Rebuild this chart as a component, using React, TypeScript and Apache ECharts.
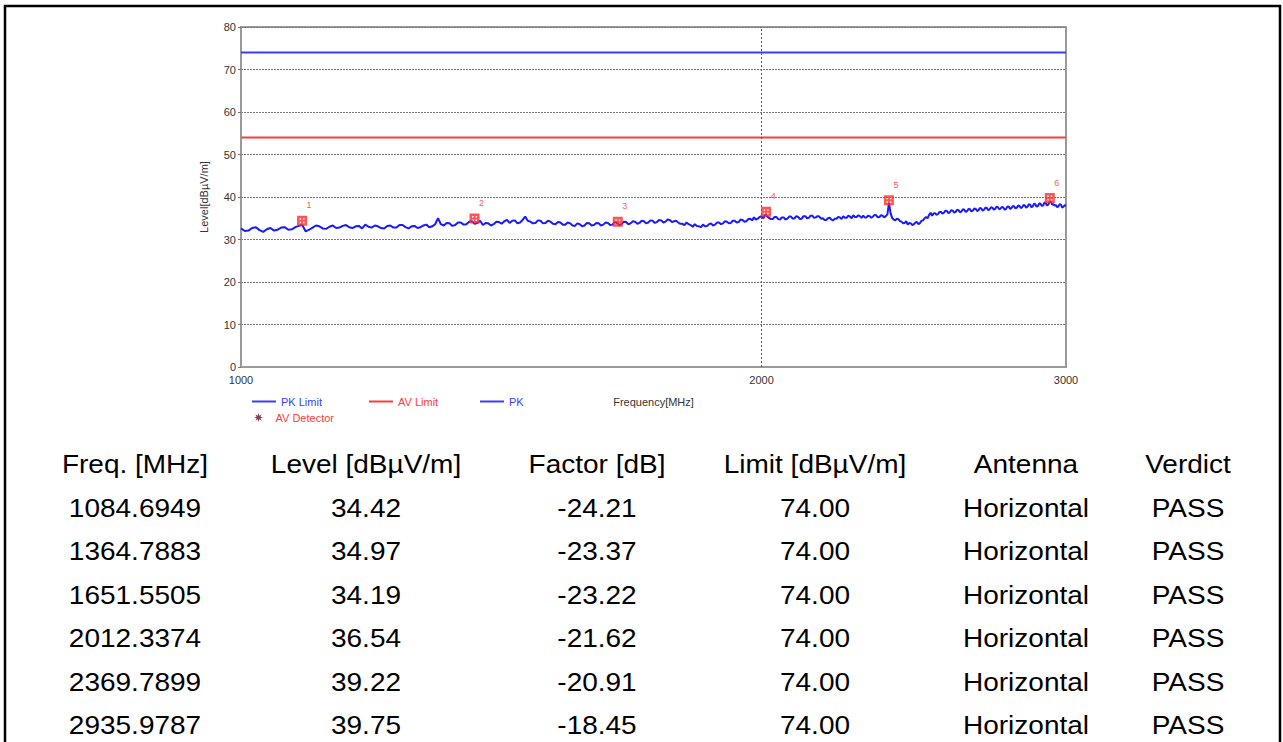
import React, { useEffect, useRef } from "react";
import * as echarts from "echarts";

// ---------------- data ----------------
const pkLimitLevel = 74;
const avLimitLevel = 54;
const sweepStartMHz = 1000;
const sweepStopMHz = 3000;
const sweepStepMHz = 5;
// PK trace, one value every 5 MHz from 1000 to 3000 MHz
const pkLevels = [
  32.6, 32.0, 32.1, 32.7, 32.9, 32.2, 31.8, 32.4, 32.7, 32.1, 32.3, 32.8, 32.9, 32.3, 32.4, 32.9, 33.2, 33.4, 31.9, 32.3,
  32.8, 33.3, 33.1, 32.6, 32.5, 33.0, 33.3, 32.7, 32.8, 33.2, 33.4, 32.9, 32.7, 33.1, 33.2, 32.6, 33.5, 33.0, 32.8, 33.3,
  33.1, 32.7, 32.6, 33.2, 33.3, 32.8, 32.8, 33.4, 33.4, 32.9, 32.6, 33.1, 33.2, 32.7, 32.9, 33.3, 33.5, 32.9, 33.1, 33.6,
  35.0, 33.6, 33.3, 33.9, 33.8, 33.2, 33.4, 34.0, 34.0, 33.5, 33.6, 34.2, 34.3, 33.7, 33.9, 34.4, 33.4, 33.9, 33.8, 33.3,
  33.6, 34.2, 34.1, 33.7, 34.3, 34.6, 33.9, 34.4, 34.5, 33.8, 34.0, 34.6, 35.4, 34.4, 34.2, 33.8, 33.9, 34.5, 34.4, 33.8,
  33.9, 34.4, 34.2, 33.7, 33.6, 34.1, 34.0, 33.5, 33.5, 34.0, 33.8, 33.3, 33.2, 33.8, 33.6, 33.1, 33.3, 33.9, 33.8, 33.3,
  33.4, 33.9, 33.8, 33.3, 33.5, 34.0, 33.9, 33.4, 33.5, 34.1, 33.9, 33.4, 33.6, 34.2, 34.1, 33.6, 33.8, 34.3, 34.2, 33.7,
  33.9, 34.4, 34.3, 33.8, 34.0, 34.5, 34.4, 33.9, 34.1, 34.6, 34.5, 34.0, 34.2, 34.7, 34.6, 34.1, 34.3, 34.4, 34.0, 33.7,
  33.7, 33.4, 34.0, 33.6, 33.4, 33.0, 33.6, 33.2, 33.1, 32.9, 33.5, 33.1, 33.2, 33.6, 33.8, 33.3, 33.5, 34.0, 34.0, 33.6,
  33.8, 34.3, 34.2, 33.8, 33.9, 34.4, 34.4, 34.0, 34.1, 34.7, 34.6, 34.2, 34.3, 34.8, 34.9, 34.5, 35.2, 34.7, 34.9, 35.3,
  35.5, 35.0, 35.9, 35.4, 35.1, 34.8, 34.8, 35.3, 35.3, 34.8, 34.7, 35.2, 35.2, 34.7, 34.9, 35.4, 35.4, 34.9, 35.0, 35.5,
  35.3, 34.8, 34.9, 35.5, 35.5, 35.0, 35.1, 35.6, 35.6, 35.1, 35.2, 35.5, 35.4, 34.9, 35.0, 34.6, 34.6, 35.0, 35.1, 34.7,
  34.5, 34.9, 34.9, 35.3, 35.2, 34.8, 35.5, 35.1, 35.1, 35.6, 35.4, 35.0, 35.7, 35.3, 35.3, 35.7, 35.5, 35.1, 35.6, 35.2,
  35.2, 35.6, 35.5, 35.1, 35.4, 35.8, 35.7, 35.2, 35.3, 35.7, 35.6, 35.2, 35.5, 35.9, 38.6, 36.2, 35.1, 34.7, 34.5, 34.9,
  34.8, 34.3, 34.2, 33.8, 33.9, 34.3, 33.5, 33.9, 33.8, 33.4, 33.6, 34.0, 34.1, 33.6, 33.9, 34.4, 34.5, 35.0, 35.3, 35.0,
  35.8, 36.3, 35.6, 36.1, 36.2, 35.8, 36.0, 36.5, 36.5, 36.1, 36.3, 36.8, 36.7, 36.2, 36.4, 36.9, 36.8, 36.3, 36.5, 37.0,
  36.9, 36.4, 36.6, 37.1, 37.0, 36.5, 36.7, 37.2, 37.1, 36.6, 36.8, 37.3, 37.2, 36.7, 36.9, 37.4, 37.3, 36.8, 37.0, 37.5,
  37.4, 36.9, 37.1, 37.6, 37.5, 37.0, 37.2, 37.7, 37.6, 37.1, 37.3, 37.7, 37.5, 37.0, 37.2, 37.8, 37.7, 37.2, 37.4, 37.9,
  37.8, 37.3, 37.5, 38.0, 37.9, 37.4, 37.6, 38.1, 38.0, 37.5, 37.7, 38.3, 38.2, 37.6, 37.8, 38.4, 38.3, 37.7, 37.9, 38.5,
  38.4, 37.9, 38.0, 38.7, 38.6, 38.0, 38.2, 38.9, 38.9, 38.2, 38.3, 38.0, 38.1, 37.6, 37.8, 38.3, 38.2, 37.5, 37.7, 38.1,
  37.9,
];

const markerFreqs = [1084.6949, 1364.7883, 1651.5505, 2012.3374, 2369.7899, 2935.9787];
const markerLevels = [34.42, 34.97, 34.19, 36.54, 39.22, 39.75];
const markerFactors = [-24.21, -23.37, -23.22, -21.62, -20.91, -18.45];
const markerLimits = [74.0, 74.0, 74.0, 74.0, 74.0, 74.0];
const markerAntennas = ["Horizontal", "Horizontal", "Horizontal", "Horizontal", "Horizontal", "Horizontal"];
const markerVerdicts = ["PASS", "PASS", "PASS", "PASS", "PASS", "PASS"];

const tableHeaders = ["Freq. [MHz]", "Level [dBµV/m]", "Factor [dB]", "Limit [dBµV/m]", "Antenna", "Verdict"];
const xTickValues = [1000, 2000, 3000];

// ---------------- styles ----------------
const FONT = "'Liberation Sans', Arial, sans-serif";
const BLUE_LIMIT = "#3c3cff";
const RED_LIMIT = "#ff3c3c";
const BLUE_TRACE = "#1a1aff";
const MARKER_RED = "#ff2a2a";
const colCenters = [135, 366, 597, 815, 1026, 1188];
const headerY = 465;
const rowYs = [509, 552, 596, 639, 683, 726];
const tableFontSize = 25;
const tableScaleX = 1.12;

function starIcon(): string {
  const pts: string[] = [];
  for (let i = 0; i < 16; i++) {
    const r = i % 2 === 0 ? 10 : 4.5;
    const a = (i * Math.PI) / 8 - Math.PI / 2;
    pts.push(`${(10 + r * Math.cos(a)).toFixed(2)},${(10 + r * Math.sin(a)).toFixed(2)}`);
  }
  return "path://M" + pts.join("L") + "Z";
}

const hashIcon =
  "path://M0,0H10V10H0Z M2.5,2.5V4H4V2.5Z M6,2.5V4H7.5V2.5Z M2.5,6V7.5H4V6Z M6,6V7.5H7.5V6Z";

export default function App() {
  const ref = useRef<HTMLDivElement>(null);

  useEffect(() => {
    if (!ref.current) return;
    const chart = echarts.init(ref.current, undefined, { renderer: "svg" });

    const pkData = pkLevels.map((v, i) => [sweepStartMHz + i * sweepStepMHz, v]);
    const markerData = markerFreqs.map((f, i) => [f, markerLevels[i]]);

    const tableTexts: any[] = [];
    tableHeaders.forEach((h, c) => {
      tableTexts.push({
        type: "text",
        x: colCenters[c],
        y: headerY,
        scaleX: tableScaleX,
        style: {
          text: h,
          font: `${tableFontSize}px ${FONT}`,
          fill: "#000",
          textAlign: "center",
          textVerticalAlign: "middle",
        },
      });
    });
    markerFreqs.forEach((f, r) => {
      const cells = [
        f.toFixed(4),
        markerLevels[r].toFixed(2),
        markerFactors[r].toFixed(2),
        markerLimits[r].toFixed(2),
        markerAntennas[r],
        markerVerdicts[r],
      ];
      cells.forEach((t, c) => {
        tableTexts.push({
          type: "text",
          x: colCenters[c],
          y: rowYs[r],
          scaleX: tableScaleX,
          style: {
            text: t,
            font: `${tableFontSize}px ${FONT}`,
            fill: "#000",
            textAlign: "center",
            textVerticalAlign: "middle",
          },
        });
      });
    });

    const legendBase = {
      orient: "horizontal",
      selectedMode: false,
      itemGap: 10,
      textStyle: { fontSize: 11, fontFamily: FONT },
    };

    chart.setOption({
      animation: false,
      backgroundColor: "#ffffff",
      textStyle: { fontFamily: FONT },
      grid: {
        left: 241,
        top: 27,
        right: 217,
        bottom: 375,
        show: true,
        borderColor: "#9a9a9a",
        borderWidth: 2,
        backgroundColor: "transparent",
      },
      xAxis: {
        type: "log",
        logBase: 10,
        min: sweepStartMHz,
        max: sweepStopMHz,
        name: "Frequency[MHz]",
        nameLocation: "middle",
        nameGap: 29,
        nameTextStyle: { fontSize: 11, color: "#333", fontFamily: FONT },
        axisLine: { show: true, lineStyle: { color: "#9a9a9a", width: 2 } },
        axisTick: { show: false },
        splitLine: { show: false },
        minorTick: { show: false },
        axisLabel: {
          customValues: xTickValues,
          fontSize: 11,
          color: "#333",
          margin: 7,
          formatter: (v: number) => String(Math.round(v)),
        },
      },
      yAxis: {
        type: "value",
        min: 0,
        max: 80,
        interval: 10,
        name: "Level[dBµV/m]",
        nameLocation: "middle",
        nameGap: 32,
        nameTextStyle: { fontSize: 11, color: "#333", fontFamily: FONT },
        axisLine: { show: true, lineStyle: { color: "#9a9a9a", width: 2 } },
        axisTick: { show: true, length: 3, lineStyle: { color: "#777" } },
        axisLabel: { fontSize: 11, color: "#333", margin: 5 },
        splitLine: { show: true, lineStyle: { color: "#777", type: [2, 1], width: 1 } },
      },
      legend: [
        {
          ...legendBase,
          left: 247,
          top: 391,
          itemWidth: 24,
          itemHeight: 2,
          data: [{ name: "PK Limit", icon: "rect", textStyle: { color: BLUE_LIMIT } }],
        },
        {
          ...legendBase,
          left: 364,
          top: 391,
          itemWidth: 24,
          itemHeight: 2,
          data: [{ name: "AV Limit", icon: "rect", textStyle: { color: RED_LIMIT } }],
        },
        {
          ...legendBase,
          left: 475,
          top: 391,
          itemWidth: 24,
          itemHeight: 2,
          data: [{ name: "PK", icon: "rect", textStyle: { color: BLUE_LIMIT } }],
        },
        {
          ...legendBase,
          left: 249,
          top: 407,
          itemWidth: 24,
          itemHeight: 9,
          data: [
            {
              name: "AV Detector",
              icon: starIcon(),
              itemStyle: { color: "#6a0a35" },
              textStyle: { color: RED_LIMIT },
            },
          ],
        },
      ],
      series: [
        {
          name: "PK Limit",
          type: "line",
          symbol: "none",
          color: BLUE_LIMIT,
          lineStyle: { color: BLUE_LIMIT, width: 2 },
          data: [
            [sweepStartMHz, pkLimitLevel],
            [sweepStopMHz, pkLimitLevel],
          ],
          z: 3,
        },
        {
          name: "AV Limit",
          type: "line",
          symbol: "none",
          color: RED_LIMIT,
          lineStyle: { color: RED_LIMIT, width: 2 },
          data: [
            [sweepStartMHz, avLimitLevel],
            [sweepStopMHz, avLimitLevel],
          ],
          z: 3,
        },
        {
          name: "PK",
          type: "line",
          symbol: "none",
          color: BLUE_LIMIT,
          lineStyle: { color: BLUE_TRACE, width: 2 },
          data: pkData,
          z: 4,
          markLine: {
            silent: true,
            symbol: "none",
            label: { show: false },
            lineStyle: { color: "#555", type: [2, 2], width: 1 },
            data: [{ xAxis: xTickValues[1] }],
          },
        },
        {
          name: "AV Detector",
          type: "scatter",
          symbol: hashIcon,
          symbolSize: 10,
          color: MARKER_RED,
          itemStyle: { color: MARKER_RED },
          data: markerData,
          z: 6,
          label: {
            show: true,
            position: "top",
            offset: [7, -1],
            fontSize: 9,
            color: MARKER_RED,
            formatter: (p: any) => String(p.dataIndex + 1),
          },
        },
      ],
      graphic: [
        {
          type: "rect",
          shape: { x: 5, y: 6, width: 1275, height: 800 },
          style: { fill: "none", stroke: "#000", lineWidth: 2.5 },
          silent: true,
        },
        ...tableTexts,
      ],
    });

    return () => {
      chart.dispose();
    };
  }, []);

  return (
    <div
      ref={ref}
      style={{ position: "fixed", left: 0, top: 0, width: 1283, height: 742, background: "#fff" }}
    />
  );
}
